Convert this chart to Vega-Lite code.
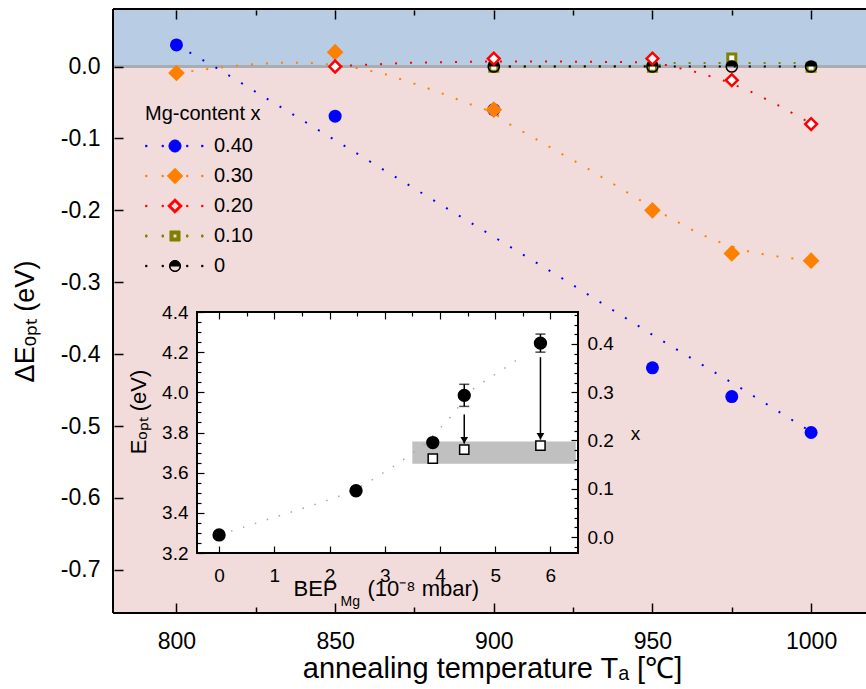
{
"$schema": "https://vega.github.io/schema/vega-lite/v6.json",
"width": 753, "height": 604,
"autosize": {"type": "none"},
"padding": {"left": 113, "top": 9, "right": 0, "bottom": 76},
"background": "white",
"config": {
  "view": {"stroke": null, "fill": {"gradient": "linear", "x1": 0, "y1": 0, "x2": 0, "y2": 1, "stops": [{"offset": 0, "color": "#b8cce4"}, {"offset": 0.0952, "color": "#b8cce4"}, {"offset": 0.0952, "color": "#f2dcdb"}, {"offset": 1, "color": "#f2dcdb"}]}},
  "font": "Liberation Sans",
  "axis": {"labelFont": "Liberation Sans", "titleFont": "Liberation Sans", "labelColor": "black", "titleColor": "black", "tickColor": "black", "domainColor": "black", "grid": false, "titleFontWeight": "normal", "labelFlush": false, "labelOverlap": false, "labelBound": false, "zindex": 1},
  "legend": {"labelFont": "Liberation Sans", "titleFont": "Liberation Sans", "labelColor": "black", "titleColor": "black", "titleFontWeight": "normal", "padding": 0, "zindex": 1}
},
"datasets": {
  "pts": [
    {"series":"0.40","T":800,"dE":0.03},{"series":"0.40","T":850,"dE":-0.069},{"series":"0.40","T":900,"dE":-0.06},{"series":"0.40","T":950,"dE":-0.419},{"series":"0.40","T":975,"dE":-0.459},{"series":"0.40","T":1000,"dE":-0.509},
    {"series":"0.30","T":800,"dE":-0.009},{"series":"0.30","T":850,"dE":0.02},{"series":"0.30","T":900,"dE":-0.06},{"series":"0.30","T":950,"dE":-0.2},{"series":"0.30","T":975,"dE":-0.26},{"series":"0.30","T":1000,"dE":-0.27},
    {"series":"0.20","T":850,"dE":0.0},{"series":"0.20","T":900,"dE":0.011},{"series":"0.20","T":950,"dE":0.011},{"series":"0.20","T":975,"dE":-0.019},{"series":"0.20","T":1000,"dE":-0.08},
    {"series":"0.10","T":900,"dE":-0.001},{"series":"0.10","T":950,"dE":-0.001},{"series":"0.10","T":975,"dE":0.012},{"series":"0.10","T":1000,"dE":-0.001},
    {"series":"0","T":900,"dE":0.0},{"series":"0","T":950,"dE":0.0},{"series":"0","T":975,"dE":0.0},{"series":"0","T":1000,"dE":0.0}
  ],
  "crv": [
    {"series":"0.40","T":800,"dE":0.03},{"series":"0.40","T":813,"dE":-0.003},{"series":"0.40","T":847.6,"dE":-0.096},{"series":"0.40","T":873.6,"dE":-0.166},{"series":"0.40","T":921.3,"dE":-0.294},{"series":"0.40","T":951.4,"dE":-0.377},{"series":"0.40","T":977.4,"dE":-0.446},{"series":"0.40","T":1000,"dE":-0.508},
    {"series":"0.30","T":800,"dE":-0.009},{"series":"0.30","T":809,"dE":-0.004},{"series":"0.30","T":817.5,"dE":0.0005},{"series":"0.30","T":826.5,"dE":0.004},{"series":"0.30","T":834.9,"dE":0.0055},{"series":"0.30","T":843.6,"dE":0.0046},{"series":"0.30","T":848,"dE":0.003},{"series":"0.30","T":856.7,"dE":-0.002},{"series":"0.30","T":865.1,"dE":-0.0097},{"series":"0.30","T":873.7,"dE":-0.022},{"series":"0.30","T":882.3,"dE":-0.035},{"series":"0.30","T":891,"dE":-0.05},{"series":"0.30","T":900,"dE":-0.064},{"series":"0.30","T":904,"dE":-0.078},{"series":"0.30","T":912.6,"dE":-0.099},{"series":"0.30","T":921.2,"dE":-0.121},{"series":"0.30","T":930,"dE":-0.143},{"series":"0.30","T":938.7,"dE":-0.166},{"series":"0.30","T":947.3,"dE":-0.189},{"series":"0.30","T":955.9,"dE":-0.2115},{"series":"0.30","T":964.6,"dE":-0.232},{"series":"0.30","T":973.2,"dE":-0.248},{"series":"0.30","T":981.8,"dE":-0.259},{"series":"0.30","T":990.6,"dE":-0.265},{"series":"0.30","T":1000,"dE":-0.27},
    {"series":"0.20","T":850,"dE":0.0},{"series":"0.20","T":854.6,"dE":0.0014},{"series":"0.20","T":863.2,"dE":0.003},{"series":"0.20","T":872,"dE":0.005},{"series":"0.20","T":885,"dE":0.006},{"series":"0.20","T":900,"dE":0.007},{"series":"0.20","T":920,"dE":0.007},{"series":"0.20","T":945.6,"dE":0.006},{"series":"0.20","T":954.2,"dE":0.002},{"series":"0.20","T":962.8,"dE":-0.0065},{"series":"0.20","T":971.5,"dE":-0.018},{"series":"0.20","T":980.1,"dE":-0.033},{"series":"0.20","T":988.8,"dE":-0.052},{"series":"0.20","T":997.3,"dE":-0.0726},{"series":"0.20","T":1000,"dE":-0.08},
    {"series":"0.10","T":900,"dE":0.0},{"series":"0.10","T":950,"dE":0.001},{"series":"0.10","T":957,"dE":0.005},{"series":"0.10","T":995,"dE":0.005},{"series":"0.10","T":1000,"dE":0.0},
    {"series":"0","T":900,"dE":0.0},{"series":"0","T":1000,"dE":0.0}
  ],
  "bep": [
    {"b":0,"E":3.29},{"b":0.46,"E":3.33},{"b":1.03,"E":3.38},{"b":1.61,"E":3.43},{"b":2.15,"E":3.48},{"b":2.63,"E":3.54},{"b":3.21,"E":3.64},{"b":3.72,"E":3.74},{"b":4.17,"E":3.87},{"b":4.59,"E":4.015},{"b":4.86,"E":4.065},{"b":5.14,"E":4.115},{"b":5.44,"E":4.17}
  ],
  "ins": [
    {"type":"as grown","b":0,"E":3.29},{"type":"as grown","b":2.48,"E":3.51},{"type":"as grown","b":3.87,"E":3.75},{"type":"as grown","b":4.44,"E":3.985},{"type":"as grown","b":5.82,"E":4.245},
    {"type":"annealed at 1000℃","b":3.87,"E":3.67},{"type":"annealed at 1000℃","b":4.44,"E":3.715},{"type":"annealed at 1000℃","b":5.82,"E":3.735}
  ],
  "err": [
    {"b":4.44,"lo":3.93,"hi":4.04},{"b":5.82,"lo":4.2,"hi":4.29}
  ],
  "arr": [
    {"b":4.44,"y0":3.89,"y1":3.745},{"b":5.82,"y0":4.175,"y1":3.765}
  ]
},
"layer": [
  {
    "layer": [
      {"data": {"values": [{}]}, "mark": {"type": "rule", "color": "#a9acb0", "strokeWidth": 3},
       "encoding": {
         "y": {"datum": 0, "type": "quantitative", "scale": {"domain": [-0.76, 0.08], "nice": false, "zero": false}, "axis": null}
       }},
      {"data": {"name": "crv"}, "mark": {"type": "line", "strokeWidth": 2, "strokeDash": [2, 13]},
       "encoding": {
         "x": {"field": "T", "type": "quantitative", "scale": {"domain": [780, 1017.3], "nice": false, "zero": false}, "axis": null},
         "y": {"field": "dE", "type": "quantitative", "scale": {"domain": [-0.76, 0.08], "nice": false, "zero": false}, "axis": null},
         "color": {"field": "series", "type": "nominal", "scale": {"domain": ["0.40","0.30","0.20","0.10","0"], "range": ["#0000ff","#ff8000","#ff0000","#808000","#000000"]}, "legend": null}
       }},
      {"data": {"name": "pts"}, "transform": [{"filter": "datum.series === '0.40'"}],
       "mark": {"type": "point", "shape": "circle", "filled": true, "color": "#0000ff", "size": 169, "opacity": 1, "strokeWidth": 0},
       "encoding": {
         "x": {"field": "T", "type": "quantitative", "scale": {"domain": [780, 1017.3], "nice": false, "zero": false}, "axis": null},
         "y": {"field": "dE", "type": "quantitative", "scale": {"domain": [-0.76, 0.08], "nice": false, "zero": false}, "axis": null}
       }},
      {"data": {"name": "pts"}, "transform": [{"filter": "datum.series === '0.30'"}],
       "mark": {"type": "point", "shape": "diamond", "filled": true, "color": "#ff8000", "size": 279, "opacity": 1, "strokeWidth": 0},
       "encoding": {
         "x": {"field": "T", "type": "quantitative", "scale": {"domain": [780, 1017.3], "nice": false, "zero": false}, "axis": null},
         "y": {"field": "dE", "type": "quantitative", "scale": {"domain": [-0.76, 0.08], "nice": false, "zero": false}, "axis": null}
       }},
      {"data": {"name": "pts"}, "transform": [{"filter": "datum.series === '0.10'"}],
       "mark": {"type": "point", "shape": "square", "filled": true, "fill": "#ffffff", "stroke": "#808000", "strokeWidth": 3, "size": 64, "opacity": 1},
       "encoding": {
         "x": {"field": "T", "type": "quantitative", "scale": {"domain": [780, 1017.3], "nice": false, "zero": false}, "axis": null},
         "y": {"field": "dE", "type": "quantitative", "scale": {"domain": [-0.76, 0.08], "nice": false, "zero": false}, "axis": null}
       }},
      {"data": {"name": "pts"}, "transform": [{"filter": "datum.series === '0'"}],
       "mark": {"type": "point", "shape": "circle", "filled": false, "stroke": "#000000", "strokeWidth": 1.5, "size": 125, "opacity": 1},
       "encoding": {
         "x": {"field": "T", "type": "quantitative", "scale": {"domain": [780, 1017.3], "nice": false, "zero": false}, "axis": null},
         "y": {"field": "dE", "type": "quantitative", "scale": {"domain": [-0.76, 0.08], "nice": false, "zero": false}, "axis": null}
       }},
      {"data": {"name": "pts"}, "transform": [{"filter": "datum.series === '0'"}],
       "mark": {"type": "point", "shape": "M-1,0A1,1,0,0,1,1,0Z", "filled": true, "color": "#000000", "size": 125, "opacity": 1, "strokeWidth": 0},
       "encoding": {
         "x": {"field": "T", "type": "quantitative", "scale": {"domain": [780, 1017.3], "nice": false, "zero": false}, "axis": null},
         "y": {"field": "dE", "type": "quantitative", "scale": {"domain": [-0.76, 0.08], "nice": false, "zero": false}, "axis": null}
       }},
      {"data": {"name": "pts"}, "transform": [{"filter": "datum.series === '0.20'"}],
       "mark": {"type": "point", "shape": "diamond", "filled": true, "fill": "#ffffff", "stroke": "#ff0000", "strokeWidth": 2.5, "size": 139, "opacity": 1},
       "encoding": {
         "x": {"field": "T", "type": "quantitative", "scale": {"domain": [780, 1017.3], "nice": false, "zero": false}, "axis": null},
         "y": {"field": "dE", "type": "quantitative", "scale": {"domain": [-0.76, 0.08], "nice": false, "zero": false}, "axis": null}
       }}
    ]
  },
  {
    "layer": [
      {"data": {"values": [{}]}, "mark": {"type": "rect", "fill": "#ffffff", "stroke": "#000000", "strokeWidth": 2},
       "encoding": {
         "x": {"datum": -0.4, "type": "quantitative", "scale": {"domain": [-0.4, 6.5], "range": [84, 465], "nice": false, "zero": false},
               "axis": {"orient": "bottom", "zindex": 1, "offset": -60, "domain": false, "values": [0,0.5,1,1.5,2,2.5,3,3.5,4,4.5,5,5.5,6], "format": "d",
                        "tickSize": {"condition": {"test": "datum.value % 1 === 0", "value": -7}, "value": -4}, "tickWidth": 1.2,
                        "labelExpr": "datum.value % 1 === 0 ? datum.label : ''", "labelFontSize": 19, "labelPadding": 20,
                        "title": "BEP", "titleFontSize": 22, "titleX": 180, "titleY": 42, "titleAlign": "left", "titleBaseline": "alphabetic"}},
         "x2": {"datum": 6.5},
         "y": {"datum": 3.2, "type": "quantitative", "scale": {"domain": [3.2, 4.4], "range": [544, 303], "nice": false, "zero": false},
               "axis": {"orient": "left", "zindex": 1, "offset": -84, "domain": false, "values": [3.2,3.25,3.3,3.35,3.4,3.45,3.5,3.55,3.6,3.65,3.7,3.75,3.8,3.85,3.9,3.95,4.0,4.05,4.1,4.15,4.2,4.25,4.3,4.35,4.4],
                        "tickSize": {"condition": {"test": "abs(datum.value*5 - round(datum.value*5)) < 0.001", "value": -7}, "value": -4}, "tickWidth": 1.2,
                        "labelExpr": "abs(datum.value*5 - round(datum.value*5)) < 0.001 ? format(datum.value, '.1f') : ''", "labelFontSize": 19, "labelPadding": 16,
                        "title": "Eₒₚₜ (eV)", "titleFontSize": 22, "titleAngle": -90, "titleX": -52, "titleY": 402.5, "titleAlign": "center", "titleBaseline": "alphabetic"}},
         "y2": {"datum": 4.4}
       }},
      {"data": {"values": [{}]}, "mark": {"type": "rect", "fill": "#c0c0c0"},
       "encoding": {
         "x": {"datum": 3.5, "type": "quantitative", "scale": {"domain": [-0.4, 6.5], "range": [84, 465], "nice": false, "zero": false},
               "axis": {"orient": "top", "zindex": 1, "offset": -303, "domain": false, "values": [0,0.5,1,1.5,2,2.5,3,3.5,4,4.5,5,5.5,6],
                        "tickSize": {"condition": {"test": "datum.value % 1 === 0", "value": -7}, "value": -4}, "tickWidth": 1.2,
                        "labels": false, "title": null}},
         "x2": {"datum": 6.46},
         "y": {"datum": 3.645, "type": "quantitative", "scale": {"domain": [3.2, 4.4], "range": [544, 303], "nice": false, "zero": false}, "axis": null},
         "y2": {"datum": 3.755}
       }},
      {"data": {"name": "bep"}, "mark": {"type": "line", "color": "#a8a8a8", "strokeWidth": 1.5, "strokeDash": [1.5, 11]},
       "encoding": {
         "x": {"field": "b", "type": "quantitative", "scale": {"domain": [-0.4, 6.5], "range": [84, 465], "nice": false, "zero": false},
               "axis": {"orient": "bottom", "zindex": 1, "offset": -60, "domain": false, "ticks": false, "labels": false,
                        "title": "Mg", "titleFontSize": 14, "titleX": 227, "titleY": 52, "titleAlign": "left", "titleBaseline": "alphabetic"}},
         "y": {"field": "E", "type": "quantitative", "scale": {"domain": [3.2, 4.4], "range": [544, 303], "nice": false, "zero": false}, "axis": null}
       }},
      {"data": {"name": "err"}, "mark": {"type": "errorbar", "ticks": {"size": 10}, "thickness": 1.5, "color": "#000000"},
       "encoding": {
         "x": {"field": "b", "type": "quantitative", "scale": {"domain": [-0.4, 6.5], "range": [84, 465], "nice": false, "zero": false}, "axis": null},
         "y": {"field": "lo", "type": "quantitative", "scale": {"domain": [3.2, 4.4], "range": [544, 303], "nice": false, "zero": false}, "axis": null},
         "y2": {"field": "hi"}
       }},
      {"data": {"name": "arr"}, "mark": {"type": "rule", "color": "#000000", "strokeWidth": 1.5},
       "encoding": {
         "x": {"field": "b", "type": "quantitative", "scale": {"domain": [-0.4, 6.5], "range": [84, 465], "nice": false, "zero": false},
               "axis": {"orient": "bottom", "zindex": 1, "offset": -60, "domain": false, "ticks": false, "labels": false,
                        "title": "(10⁻⁸ mbar)", "titleFontSize": 22, "titleX": 254, "titleY": 42, "titleAlign": "left", "titleBaseline": "alphabetic"}},
         "y": {"field": "y0", "type": "quantitative", "scale": {"domain": [3.2, 4.4], "range": [544, 303], "nice": false, "zero": false}, "axis": null},
         "y2": {"field": "y1"}
       }},
      {"data": {"name": "arr"}, "mark": {"type": "point", "shape": "triangle-down", "filled": true, "color": "#000000", "size": 60, "opacity": 1, "yOffset": -3.3},
       "encoding": {
         "x": {"field": "b", "type": "quantitative", "scale": {"domain": [-0.4, 6.5], "range": [84, 465], "nice": false, "zero": false}, "axis": null},
         "y": {"field": "y1", "type": "quantitative", "scale": {"domain": [3.2, 4.4], "range": [544, 303], "nice": false, "zero": false}, "axis": null}
       }},
      {"data": {"name": "ins"},
       "mark": {"type": "point", "filled": true, "stroke": "#000000", "strokeWidth": 1.5, "opacity": 1},
       "encoding": {
         "x": {"field": "b", "type": "quantitative", "scale": {"domain": [-0.4, 6.5], "range": [84, 465], "nice": false, "zero": false}, "axis": null},
         "y": {"field": "E", "type": "quantitative", "scale": {"domain": [3.2, 4.4], "range": [544, 303], "nice": false, "zero": false}, "axis": null},
         "size": {"field": "type", "type": "nominal", "scale": {"domain": ["as grown", "annealed at 1000℃"], "range": [140, 85]}, "legend": null},
         "shape": {"field": "type", "type": "nominal", "scale": {"domain": ["as grown", "annealed at 1000℃"], "range": ["circle", "square"]},
                   "legend": {"title": null, "orient": "none", "legendX": 112, "legendY": 315, "zindex": 1, "labelFontSize": 18, "symbolSize": 200, "symbolStrokeWidth": 2, "labelOffset": 19, "rowPadding": 6}},
         "fill": {"field": "type", "type": "nominal", "scale": {"domain": ["as grown", "annealed at 1000℃"], "range": ["#000000", "#ffffff"]},
                   "legend": {"title": null, "orient": "none", "legendX": 112, "legendY": 315, "zindex": 1, "labelFontSize": 18, "symbolSize": 200, "symbolStrokeWidth": 2, "labelOffset": 19, "rowPadding": 6}}
       }}
    ],
    "resolve": {"axis": {"x": "independent", "y": "independent"}}
  },
  {
    "data": {"values": [{}]},
    "mark": {"type": "point", "opacity": 0},
    "encoding": {
      "y": {"datum": 0.2, "type": "quantitative", "scale": {"domain": [-0.033, 0.466], "range": [544, 303], "nice": false, "zero": false},
            "axis": {"orient": "right", "zindex": 1, "offset": -288, "domain": false,
                     "values": [-0.02,0,0.02,0.04,0.06,0.08,0.1,0.12,0.14,0.16,0.18,0.2,0.22,0.24,0.26,0.28,0.3,0.32,0.34,0.36,0.38,0.4,0.42,0.44,0.46],
                     "tickSize": {"condition": {"test": "abs(datum.value*10 - round(datum.value*10)) < 0.001", "value": -7}, "value": -4}, "tickWidth": 1.2,
                     "labelExpr": "abs(datum.value*10 - round(datum.value*10)) < 0.001 ? format(datum.value, '.1f') : ''", "labelFontSize": 19, "labelPadding": 16,
                     "title": "x", "titleFontSize": 19, "titleAngle": 0, "titleX": 57, "titleY": 424, "titleAlign": "center", "titleBaseline": "middle"}}
    }
  },
  {
    "layer": [
      {"data": {"name": "pts"},
       "mark": {"type": "point", "filled": true, "opacity": 0},
       "encoding": {
         "x": {"field": "T", "type": "quantitative", "scale": {"domain": [780, 1017.3], "nice": false, "zero": false},
               "axis": {"orient": "bottom", "zindex": 1, "offset": -1, "domain": false, "values": [800,825,850,875,900,925,950,975,1000], "format": "d",
                        "tickSize": {"condition": {"test": "datum.value % 50 === 0", "value": -9}, "value": -5}, "tickWidth": 1.5,
                        "labelExpr": "datum.value % 50 === 0 ? datum.label : ''", "labelFontSize": 23, "labelPadding": 27,
                        "title": "annealing temperature Tₐ [℃]", "titleFontSize": 29, "titleX": 379, "titleY": 65, "titleAlign": "center", "titleBaseline": "alphabetic"}},
         "y": {"field": "dE", "type": "quantitative", "scale": {"domain": [-0.76, 0.08], "nice": false, "zero": false},
               "axis": {"orient": "left", "zindex": 1, "offset": -1, "domain": false, "values": [-0.7,-0.6,-0.5,-0.4,-0.3,-0.2,-0.1,0],
                        "tickSize": -9, "tickWidth": 1.5,
                        "labelExpr": "(datum.value < -0.001 ? '-' : '') + format(abs(datum.value), '.1f')", "labelFontSize": 23, "labelPadding": 23,
                        "title": "ΔEₒₚₜ (eV)", "titleFontSize": 27, "titleAngle": -90, "titleX": -81, "titleY": 312, "titleAlign": "center", "titleBaseline": "alphabetic"}},
         "shape": {"field": "series", "type": "nominal", "scale": {"domain": ["0.40","0.30","0.20","0.10","0"], "range": [
                     "M0.86,0A0.86,0.86,0,1,1,-0.86,0A0.86,0.86,0,1,1,0.86,0ZM-4.2,-0.1h0.2v0.2h-0.2ZM-1.85,-0.1h0.2v0.2h-0.2ZM1.65,-0.1h0.2v0.2h-0.2ZM3.8,-0.1h0.2v0.2h-0.2Z",
                     "M0,-1.1L1.1,0L0,1.1L-1.1,0ZM-4.2,-0.1h0.2v0.2h-0.2ZM-1.85,-0.1h0.2v0.2h-0.2ZM1.65,-0.1h0.2v0.2h-0.2ZM3.8,-0.1h0.2v0.2h-0.2Z",
                     "M0,-1.05L1.05,0L0,1.05L-1.05,0ZM0,-0.62L-0.62,0L0,0.62L0.62,0ZM-4.2,-0.1h0.2v0.2h-0.2ZM-1.85,-0.1h0.2v0.2h-0.2ZM1.65,-0.1h0.2v0.2h-0.2ZM3.8,-0.1h0.2v0.2h-0.2Z",
                     "M-0.72,-0.72h1.44v1.44h-1.44ZM-0.28,-0.28v0.56h0.56v-0.56ZM-4.2,-0.15h0.2v0.3h-0.2ZM-1.85,-0.15h0.2v0.3h-0.2ZM1.65,-0.15h0.2v0.3h-0.2ZM3.8,-0.15h0.2v0.3h-0.2Z",
                     "M-0.8,0A0.8,0.8,0,0,1,0.8,0ZM0.8,0A0.8,0.8,0,0,1,-0.8,0L-0.72,0A0.72,0.72,0,0,0,0.72,0ZM-4.2,-0.1h0.2v0.2h-0.2ZM-1.85,-0.1h0.2v0.2h-0.2ZM1.65,-0.1h0.2v0.2h-0.2ZM3.8,-0.1h0.2v0.2h-0.2Z"]},
                   "legend": {"title": "Mg-content x", "orient": "none", "legendX": 32, "legendY": 95, "zindex": 1, "titleFontSize": 20, "labelFontSize": 20,
                              "symbolSize": 196, "symbolOpacity": 1, "symbolStrokeWidth": 1, "symbolOffset": 20, "labelOffset": 29, "rowPadding": 10, "titlePadding": 12}},
         "fill": {"field": "series", "type": "nominal", "scale": {"domain": ["0.40","0.30","0.20","0.10","0"], "range": ["#0000ff","#ff8000","#ff0000","#808000","#000000"]},
                   "legend": {"title": "Mg-content x", "orient": "none", "legendX": 32, "legendY": 95, "zindex": 1, "titleFontSize": 20, "labelFontSize": 20,
                              "symbolSize": 196, "symbolOpacity": 1, "symbolStrokeWidth": 1, "symbolOffset": 20, "labelOffset": 29, "rowPadding": 10, "titlePadding": 12}},
         "stroke": {"field": "series", "type": "nominal", "scale": {"domain": ["0.40","0.30","0.20","0.10","0"], "range": ["#0000ff","#ff8000","#ff0000","#808000","#000000"]},
                   "legend": {"title": "Mg-content x", "orient": "none", "legendX": 32, "legendY": 95, "zindex": 1, "titleFontSize": 20, "labelFontSize": 20,
                              "symbolSize": 196, "symbolOpacity": 1, "symbolStrokeWidth": 1, "symbolOffset": 20, "labelOffset": 29, "rowPadding": 10, "titlePadding": 12}}
       }},
      {"data": {"values": [{}]}, "mark": {"type": "point", "opacity": 0},
       "encoding": {
         "x": {"datum": 900, "type": "quantitative", "scale": {"domain": [780, 1017.3], "nice": false, "zero": false},
               "axis": {"orient": "top", "zindex": 1, "offset": -1, "domain": false, "values": [800,825,850,875,900,925,950,975,1000],
                        "tickSize": {"condition": {"test": "datum.value % 50 === 0", "value": -9}, "value": -5}, "tickWidth": 1.5,
                        "labels": false, "title": null}}
       }},
      {"data": {"values": [{}]}, "mark": {"type": "rule", "color": "#000000", "strokeWidth": 2},
       "encoding": {"y": {"datum": 0.08, "type": "quantitative", "scale": {"domain": [-0.76, 0.08], "nice": false, "zero": false}, "axis": null}}},
      {"data": {"values": [{}]}, "mark": {"type": "rule", "color": "#000000", "strokeWidth": 2},
       "encoding": {"y": {"datum": -0.76, "type": "quantitative", "scale": {"domain": [-0.76, 0.08], "nice": false, "zero": false}, "axis": null}}},
      {"data": {"values": [{}]}, "mark": {"type": "rule", "color": "#000000", "strokeWidth": 2},
       "encoding": {"x": {"datum": 780, "type": "quantitative", "scale": {"domain": [780, 1017.3], "nice": false, "zero": false}, "axis": null}}}
    ],
    "resolve": {"axis": {"x": "independent", "y": "independent"}}
  }
],
"resolve": {
  "scale": {"x": "independent", "y": "independent", "shape": "independent", "color": "independent", "fill": "independent", "stroke": "independent", "size": "independent"},
  "axis": {"x": "independent", "y": "independent"},
  "legend": {"shape": "independent", "color": "independent", "fill": "independent", "size": "independent", "stroke": "independent"}
}
}
